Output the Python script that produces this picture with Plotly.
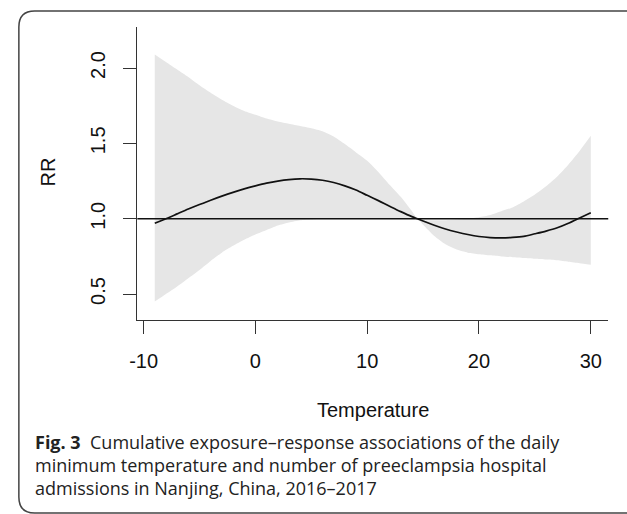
import plotly.graph_objects as go

# ---- data ----
temperature = [-9, -8, -7, -6, -5, -4, -3, -2, -1, 0, 1, 2, 3, 4, 5, 6, 7, 8, 9, 10,
               11, 12, 13, 14, 14.5, 15, 16, 17, 18, 19, 20, 21, 22, 23, 24, 25, 26, 27, 28, 29, 30]
rr = [0.97, 1.0, 1.032, 1.064, 1.094, 1.123, 1.15, 1.175, 1.198, 1.218, 1.236, 1.25, 1.26, 1.265,
      1.263, 1.255, 1.24, 1.218, 1.19, 1.155, 1.12, 1.083, 1.047, 1.014, 1.0, 0.985, 0.957, 0.932,
      0.912, 0.895, 0.882, 0.875, 0.873, 0.876, 0.883, 0.9, 0.918, 0.94, 0.97, 1.005, 1.04]
rr_upper = [2.09, 2.04, 1.99, 1.94, 1.885, 1.835, 1.79, 1.75, 1.715, 1.69, 1.665, 1.645, 1.63, 1.615,
            1.6, 1.58, 1.545, 1.495, 1.44, 1.385, 1.31, 1.225, 1.145, 1.05, 1.0, 0.99, 0.99, 0.99,
            0.995, 1.0, 1.01, 1.025, 1.05, 1.075, 1.115, 1.16, 1.215, 1.28, 1.36, 1.45, 1.55]
rr_lower = [0.45, 0.5, 0.55, 0.605, 0.66, 0.72, 0.775, 0.82, 0.86, 0.895, 0.925, 0.955, 0.975, 0.99,
            0.995, 1.0, 1.0, 1.0, 1.0, 1.0, 1.0, 1.0, 1.0, 1.0, 1.0, 0.96, 0.885, 0.83, 0.795, 0.775,
            0.765, 0.757, 0.75, 0.745, 0.74, 0.735, 0.73, 0.725, 0.715, 0.705, 0.695]
x_ticks = [-10, 0, 10, 20, 30]
y_ticks = [0.5, 1.0, 1.5, 2.0]
y_tick_labels = ["0.5", "1.0", "1.5", "2.0"]
x_title = "Temperature"
y_title = "RR"
caption_lines = [
    "<b>Fig. 3</b>  Cumulative exposure\u2013response associations of the daily",
    "minimum temperature and number of preeclampsia hospital",
    "admissions in Nanjing, China, 2016\u20132017",
]

W, H = 627, 514
def px(x):
    return x / W
def py(y):
    return 1 - y / H

fig = go.Figure()
fig.add_trace(go.Scatter(x=temperature, y=rr_lower, mode="lines", line=dict(width=0, shape="spline", smoothing=0.6),
                         hoverinfo="skip", showlegend=False))
fig.add_trace(go.Scatter(x=temperature, y=rr_upper, mode="lines", line=dict(width=0, shape="spline", smoothing=0.6),
                         fill="tonexty", fillcolor="#e6e6e6", hoverinfo="skip", showlegend=False))
fig.add_trace(go.Scatter(x=temperature, y=rr, mode="lines",
                         line=dict(color="#111111", width=1.7, shape="spline", smoothing=0.8),
                         showlegend=False))

axis_font = dict(family="Liberation Sans, Arial, sans-serif", size=20, color="#111111")

fig.update_layout(
    width=W, height=H,
    margin=dict(l=0, r=0, t=0, b=0),
    paper_bgcolor="white", plot_bgcolor="white",
    xaxis=dict(domain=[px(131), px(608)], range=[-10.56, 31.56], showgrid=False, zeroline=False,
               showline=True, linecolor="#333333", linewidth=1.3, mirror=False,
               ticks="outside", ticklen=13, tickwidth=1.3, tickcolor="#333333",
               tickvals=x_ticks, ticktext=[str(v) for v in x_ticks], tickfont=axis_font,
               ticklabelstandoff=10, anchor="y"),
    yaxis=dict(domain=[py(320), py(27)], range=[0.328, 2.272], showgrid=False, zeroline=False,
               showline=True, linecolor="#333333", linewidth=1.3, mirror=False,
               ticks="outside", ticklen=13, tickwidth=1.3, tickcolor="#333333",
               tickvals=y_ticks, ticktext=y_tick_labels, tickfont=axis_font, tickangle=-90,
               ticklabelstandoff=10, anchor="x"),
    shapes=[
        dict(type="line", xref="x domain", yref="y", x0=0, x1=1, y0=1.0, y1=1.0,
             line=dict(color="#111111", width=1.4)),
        dict(type="path", xref="paper", yref="paper",
             path=(f"M {px(640)},{py(11)} L {px(27)},{py(11)} Q {px(11)},{py(11)} {px(11)},{py(27)} "
                   f"L {px(11)},{py(497)} Q {px(11)},{py(513)} {px(27)},{py(513)} L {px(640)},{py(513)}"),
             line=dict(color="#444444", width=1.5)),
    ],
)

annotations = [
    dict(text=y_title, x=px(41), y=py(172), xref="paper", yref="paper", showarrow=False,
         textangle=-90, font=axis_font, xanchor="center", yanchor="middle"),
    dict(text=x_title, x=px(370), y=py(410), xref="paper", yref="paper", showarrow=False,
         font=axis_font, xanchor="center", yanchor="middle"),
]
cap_font = dict(family="Open Sans, Noto Sans, sans-serif", size=18, color="#222222")
for i, (line, yc) in enumerate(zip(caption_lines, [442, 465, 488])):
    annotations.append(dict(text=line, x=px(25), y=py(yc), xref="paper", yref="paper", showarrow=False,
                            font=cap_font, xanchor="left", yanchor="middle", align="left"))
fig.update_layout(annotations=annotations)

fig.write_html("out.html")
